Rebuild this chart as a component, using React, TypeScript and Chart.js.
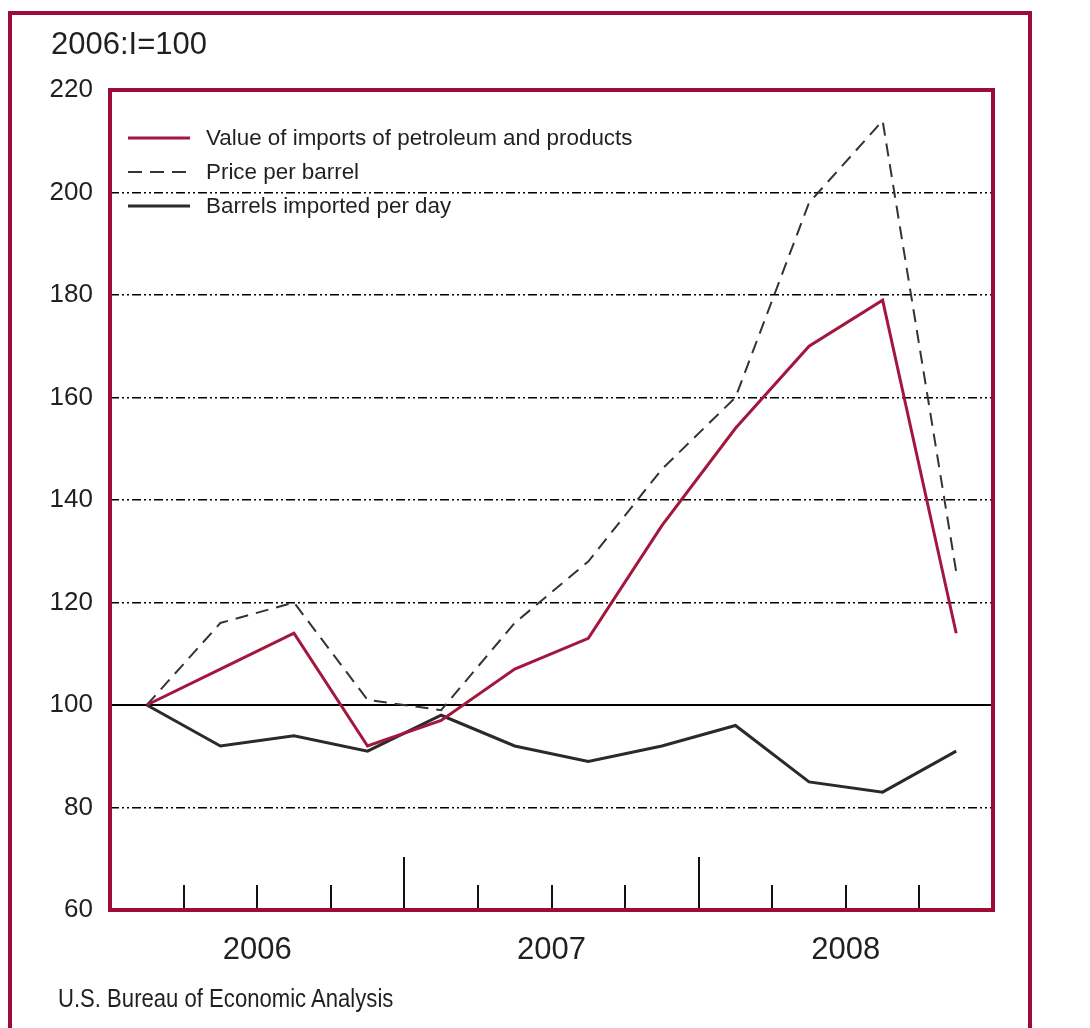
import React, { useEffect, useRef } from "react";
import { Chart, registerables } from "chart.js";

Chart.register(...registerables);

const quarters = ["2006 I", "2006 II", "2006 III", "2006 IV", "2007 I", "2007 II", "2007 III", "2007 IV", "2008 I", "2008 II", "2008 III", "2008 IV"];
const years = ["2006", "2007", "2008"];
const valueOfImports = [100, 107, 114, 92, 97, 107, 113, 135, 154, 170, 179, 114];
const pricePerBarrel = [100, 116, 120, 101, 99, 116, 128, 146, 160, 198, 214, 126];
const barrelsPerDay = [100, 92, 94, 91, 98, 92, 89, 92, 96, 85, 83, 91];
const yTicks = [60, 80, 100, 120, 140, 160, 180, 200, 220];

const FRAME = "#9c0c37";
const RED = "#a3173f";
const TEXT = "#231f20";

const overlayPlugin = {
  id: "overlay",
  afterDatasetsDraw(chart: any) {
    const { ctx, chartArea } = chart;
    const x = chart.scales.x;
    ctx.save();
    // quarter tick marks rising from the bottom of the plot
    ctx.strokeStyle = "#111";
    ctx.lineWidth = 2;
    for (let i = 1; i < quarters.length; i++) {
      const px = Math.round((x.getPixelForValue(i - 1) + x.getPixelForValue(i)) / 2);
      const h = i % 4 === 0 ? 53 : 25;
      ctx.beginPath();
      ctx.moveTo(px, chartArea.bottom);
      ctx.lineTo(px, chartArea.bottom - h);
      ctx.stroke();
    }
    // legend inside the plot
    chart.data.datasets.forEach((ds: any, i: number) => {
      const y = 138 + i * 34;
      ctx.save();
      ctx.strokeStyle = ds.borderColor;
      ctx.lineWidth = ds.borderWidth;
      ctx.setLineDash(ds.borderDash && ds.borderDash.length ? [14, 8] : []);
      ctx.beginPath();
      ctx.moveTo(128, y);
      ctx.lineTo(190, y);
      ctx.stroke();
      ctx.restore();
      ctx.fillStyle = TEXT;
      ctx.font = "22.4px 'Liberation Sans', Arial, sans-serif";
      ctx.textBaseline = "middle";
      ctx.textAlign = "left";
      ctx.fillText(ds.label, 206, y + 1);
    });
    // plot frame
    ctx.strokeStyle = FRAME;
    ctx.lineWidth = 4;
    ctx.setLineDash([]);
    ctx.strokeRect(chartArea.left, chartArea.top, chartArea.right - chartArea.left, chartArea.bottom - chartArea.top);
    ctx.restore();
  },
};

export default function App() {
  const ref = useRef<HTMLCanvasElement>(null);
  useEffect(() => {
    document.body.style.margin = "0";
    const chart = new Chart(ref.current as HTMLCanvasElement, {
      type: "line",
      data: {
        labels: quarters,
        datasets: [
          {
            label: "Value of imports of petroleum and products",
            data: valueOfImports,
            borderColor: RED,
            borderWidth: 3,
            borderDash: [],
            pointRadius: 0,
            tension: 0,
            fill: false,
          },
          {
            label: "Price per barrel",
            data: pricePerBarrel,
            borderColor: "#333",
            borderWidth: 2,
            borderDash: [13, 8],
            pointRadius: 0,
            tension: 0,
            fill: false,
          },
          {
            label: "Barrels imported per day",
            data: barrelsPerDay,
            borderColor: "#2a2a2a",
            borderWidth: 3,
            borderDash: [],
            pointRadius: 0,
            tension: 0,
            fill: false,
          },
        ],
      },
      options: {
        responsive: false,
        animation: false,
        devicePixelRatio: 1,
        layout: { padding: { left: 0, top: 90, right: 97, bottom: 0 } },
        plugins: { legend: { display: false }, tooltip: { enabled: false }, title: { display: false } },
        scales: {
          x: { display: false, offset: true },
          x2: {
            type: "linear",
            position: "bottom",
            min: 0,
            max: 3,
            grid: { display: false, drawTicks: false },
            border: { display: false },
            afterFit: (s: any) => {
              s.height = 118;
            },
            afterBuildTicks: (s: any) => {
              s.ticks = years.map((_, i) => ({ value: i + 0.5 }));
            },
            ticks: {
              autoSkip: false,
              maxRotation: 0,
              padding: 22,
              color: TEXT,
              font: { family: "'Liberation Sans', Arial", size: 31 },
              callback: (v: any) => years[Math.floor(Number(v))],
            },
          },
          y: {
            min: 60,
            max: 220,
            afterFit: (s: any) => {
              s.width = 110;
            },
            afterBuildTicks: (s: any) => {
              s.ticks = yTicks.map((v) => ({ value: v }));
            },
            grid: {
              drawTicks: false,
              color: (c: any) => (c.tick && (c.tick.value === 60 || c.tick.value === 220) ? "rgba(0,0,0,0)" : "#000"),
              lineWidth: (c: any) => (c.tick && c.tick.value === 100 ? 2 : 1.5),
            },
            border: {
              display: false,
              dash: (c: any) => (c.tick && c.tick.value === 100 ? [] : [9, 3, 2, 3, 2, 3]),
            },
            ticks: {
              padding: 17,
              color: TEXT,
              font: { family: "'Liberation Sans', Arial", size: 26 },
            },
          },
        },
      },
      plugins: [overlayPlugin],
    } as any);
    return () => chart.destroy();
  }, []);

  return (
    <div style={{ position: "fixed", left: 0, top: 0, width: 1090, height: 1028, overflow: "hidden", background: "#fff" }}>
      <div
        style={{
          position: "absolute",
          left: 8,
          top: 11,
          width: 1016,
          height: 1100,
          border: `4px solid ${FRAME}`,
        }}
      />
      <canvas ref={ref} width={1090} height={1028} style={{ position: "absolute", left: 0, top: 0 }} />
      <div
        style={{
          position: "absolute",
          left: 51,
          top: 28,
          font: "31px 'Liberation Sans', Arial, sans-serif",
          lineHeight: 1,
          color: TEXT,
          whiteSpace: "nowrap",
        }}
      >
        2006:I=100
      </div>
      <div
        style={{
          position: "absolute",
          left: 58,
          top: 985,
          font: "26px 'Liberation Sans', Arial, sans-serif",
          lineHeight: 1,
          color: TEXT,
          whiteSpace: "nowrap",
          transform: "scaleX(0.85)",
          transformOrigin: "0 0",
        }}
      >
        U.S. Bureau of Economic Analysis
      </div>
    </div>
  );
}
